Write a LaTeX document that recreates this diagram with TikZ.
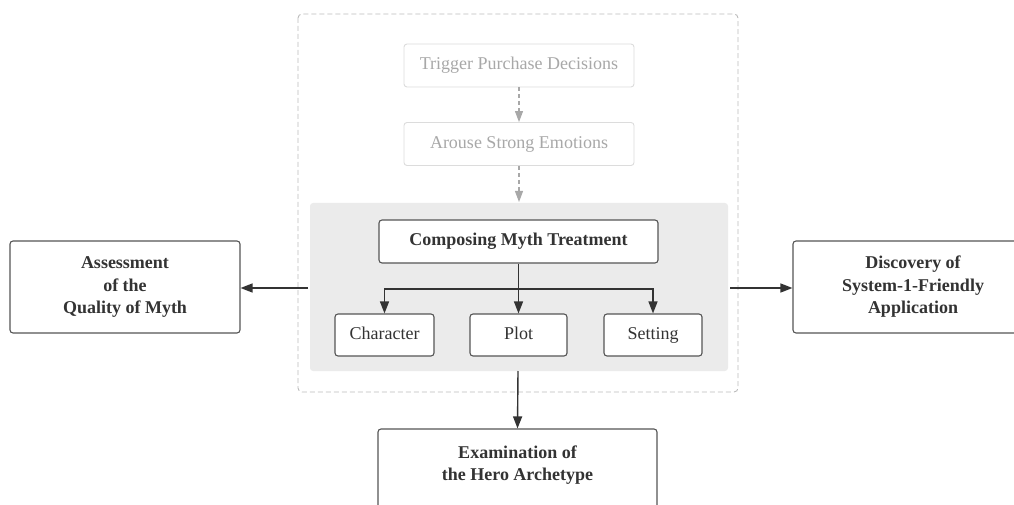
\documentclass[tikz,border=0pt]{standalone}
\usepackage{fontspec}
\setmainfont{Liberation Serif}
\usetikzlibrary{arrows.meta}
\definecolor{txt}{HTML}{333333}
\definecolor{bord}{HTML}{555555}
\definecolor{faint}{HTML}{A8A8A8}
\definecolor{faintb}{HTML}{DCDCDC}
\definecolor{grayarea}{HTML}{EBEBEB}
\definecolor{dashb}{HTML}{BBBBBB}
\tikzset{
  x=1pt, y=-1pt,
  box/.style={draw=bord, line width=1.1pt, rounded corners=3pt, fill=white, text=txt, align=center, inner sep=0pt, font=\fontsize{18}{22.5}\selectfont},
  bigbox/.style={box, font=\bfseries\fontsize{18}{22.5}\selectfont},
  fadebox/.style={draw=faintb, line width=0.9pt, rounded corners=3pt, fill=white, text=faint, align=center, inner sep=0pt, font=\fontsize{18}{22}\selectfont, minimum width=230pt, minimum height=43pt},
  arr/.style={draw=txt, line width=1.4pt, -{Triangle[length=12pt,width=9pt]}},
  farr/.style={draw=faint, line width=1.1pt, dash pattern=on 4pt off 3pt, -{Triangle[length=11pt,width=8pt]}},
}
\begin{document}
\begin{tikzpicture}
\useasboundingbox (0,0) rectangle (1014,505);
\clip (0,0) rectangle (1014,505);
\draw[dashb, line width=0.9pt, dash pattern=on 5pt off 3pt, rounded corners=4pt] (298,14) rectangle (738,392);
\fill[grayarea, rounded corners=3pt] (310,203) rectangle (728,371);
\node[fadebox] (trig) at (519,65.5) {Trigger Purchase Decisions};
\node[fadebox] (arou) at (519,144) {Arouse Strong Emotions};
\coordinate (areatop) at (519,202);
\draw[farr] (trig) -- (arou);
\draw[farr] (arou) -- (areatop);
\node[bigbox, minimum width=279pt, minimum height=43pt] (comp) at (518.5,241.5) {Composing Myth Treatment};
\node[box, minimum width=99pt, minimum height=42pt, text height=13pt, text depth=4pt] (char) at (384.5,335) {Character};
\node[box, minimum width=97pt, minimum height=42pt, text height=13pt, text depth=4pt] (plot) at (518.5,335) {Plot};
\node[box, minimum width=98pt, minimum height=42pt, text height=13pt, text depth=4pt] (sett) at (653,335) {Setting};
\coordinate (br) at (518.5,289);
\draw[arr] (comp.south) -- (plot.north);
\draw[arr] (br) -| (char.north);
\draw[arr] (br) -| (sett.north);
\node[bigbox, minimum width=230pt, minimum height=92pt] (left) at (125,287) {Assessment\\of the\\Quality of Myth};
\node[bigbox, minimum width=240pt, minimum height=92pt] (right) at (913,287) {Discovery of\\System-1-Friendly\\Application};
\node[bigbox, minimum width=279pt, minimum height=100pt] (bot) at (517.5,479) {};
\node[text=txt, font=\bfseries\fontsize{18}{22.5}\selectfont, align=center] (bottxt) at (517.5,465) {Examination of\\the Hero Archetype};
\coordinate (lsrc) at (308,288);
\coordinate (rsrc) at (730,288);
\coordinate (bsrc) at (518,371);
\draw[arr] (lsrc) -- (left.east |- lsrc);
\draw[arr] (rsrc) -- (right.west |- rsrc);
\draw[arr] (bsrc) -- (bot.north);
\end{tikzpicture}
\end{document}
